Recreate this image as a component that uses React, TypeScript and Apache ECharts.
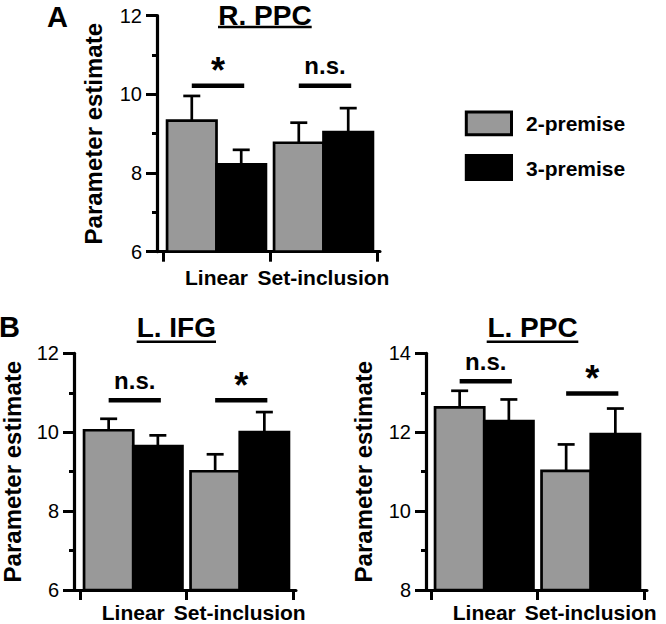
import React, { useEffect, useRef } from 'react';
import * as echarts from 'echarts';

const FONT = "'Liberation Sans', Arial, Helvetica, sans-serif";

const categories = ['Linear', 'Set-inclusion'];
const seriesNames = ['2-premise', '3-premise'];
const seriesColors = ['#999999', '#000000'];
const yAxisName = 'Parameter estimate';

// Panel A: R. PPC
const rppcTwo = [9.33, 8.77];
const rppcTwoErr = [0.63, 0.51];
const rppcThree = [8.22, 9.04];
const rppcThreeErr = [0.37, 0.61];
const rppcSigY = [10.22, 10.22];
const rppcSigLabel = ['*', 'n.s.'];
const rppcRange = [6, 12];

// Panel B left: L. IFG
const lifgTwo = [10.05, 9.01];
const lifgTwoErr = [0.29, 0.43];
const lifgThree = [9.65, 10.0];
const lifgThreeErr = [0.27, 0.51];
const lifgSigY = [10.81, 10.81];
const lifgSigLabel = ['n.s.', '*'];
const lifgRange = [6, 12];

// Panel B right: L. PPC
const lppcTwo = [12.63, 11.02];
const lppcTwoErr = [0.42, 0.67];
const lppcThree = [12.28, 11.95];
const lppcThreeErr = [0.55, 0.65];
const lppcSigY = [13.29, 12.98];
const lppcSigLabel = ['n.s.', '*'];
const lppcRange = [8, 14];

const tickInterval = 2;

const panels = [
  {
    title: 'R. PPC', two: rppcTwo, twoErr: rppcTwoErr, three: rppcThree, threeErr: rppcThreeErr,
    sigY: rppcSigY, sigLabel: rppcSigLabel, range: rppcRange,
    axisX: 157, left: 163, right: 377, lineEnd: 380, top: 15.7, bottom: 251.7, nameGap: 52, labelMargin: 15,
  },
  {
    title: 'L. IFG', two: lifgTwo, twoErr: lifgTwoErr, three: lifgThree, threeErr: lifgThreeErr,
    sigY: lifgSigY, sigLabel: lifgSigLabel, range: lifgRange,
    axisX: 74, left: 80, right: 293, lineEnd: 296, top: 353.3, bottom: 590, nameGap: 50, labelMargin: 12,
  },
  {
    title: 'L. PPC', two: lppcTwo, twoErr: lppcTwoErr, three: lppcThree, threeErr: lppcThreeErr,
    sigY: lppcSigY, sigLabel: lppcSigLabel, range: lppcRange,
    axisX: 426, left: 431, right: 644, lineEnd: 647, top: 353.3, bottom: 590, nameGap: 51, labelMargin: 12,
  },
];

const BAR_FRACTION = 0.462;
const CAP = 8.5;
const LW = 3;

function buildOption() {
  const grid: any[] = [];
  const xAxis: any[] = [];
  const yAxis: any[] = [];
  const series: any[] = [];

  panels.forEach((p, i) => {
    const gMain = grid.length;
    grid.push({
      left: p.left, top: p.top, width: p.right - p.left, height: p.bottom - p.top,
      containLabel: false, outerBoundsMode: 'none',
    });
    const gLine = grid.length;
    grid.push({
      left: p.axisX, top: p.top, width: p.lineEnd - p.axisX, height: p.bottom - p.top,
      containLabel: false, outerBoundsMode: 'none',
    });

    xAxis.push({
      type: 'category', gridIndex: gMain, data: categories, boundaryGap: true,
      axisLine: { show: false },
      axisTick: { show: true, length: 10, lineStyle: { color: '#000', width: LW } },
      axisLabel: {
        interval: 0, margin: p.labelMargin, color: '#000', fontSize: 21, fontWeight: 'bold', fontFamily: FONT,
      },
      splitLine: { show: false },
    });
    xAxis.push({
      type: 'category', gridIndex: gLine, data: categories,
      axisLine: { show: true, lineStyle: { color: '#000', width: LW } },
      axisTick: { show: false }, axisLabel: { show: false }, splitLine: { show: false },
    });

    yAxis.push({
      type: 'value', gridIndex: gMain, min: p.range[0], max: p.range[1], interval: tickInterval,
      position: 'left', offset: p.left - p.axisX,
      name: yAxisName, nameLocation: 'middle', nameRotate: 90, nameGap: p.nameGap,
      nameTextStyle: { color: '#000', fontSize: 24, fontWeight: 'bold', fontFamily: FONT },
      axisLine: { show: true, lineStyle: { color: '#000', width: 3.2, opacity: 1 } },
      axisTick: { show: true, length: 11, lineStyle: { color: '#000', width: LW } },
      minorTick: { show: true, splitNumber: 2, length: 5, lineStyle: { color: '#000', width: LW } },
      axisLabel: { margin: 15, color: '#000', fontSize: 20, fontFamily: FONT },
      splitLine: { show: false }, minorSplitLine: { show: false },
    });
    yAxis.push({
      type: 'value', gridIndex: gLine, min: p.range[0], max: p.range[1], show: false,
    });

    const xi = gMain;
    const yi = gMain;
    const makeBar = (side: number, vals: number[], errs: number[]) => ({
      type: 'custom', name: seriesNames[side], xAxisIndex: xi, yAxisIndex: yi,
      data: vals.map((v, k) => [k, v, errs[k]]),
      encode: { x: 0, y: 1 },
      renderItem: (params: any, api: any) => {
        const cat = api.value(0);
        const val = api.value(1);
        const err = api.value(2);
        const topPt = api.coord([cat, val]);
        const basePt = api.coord([cat, p.range[0]]);
        const errPt = api.coord([cat, val + err]);
        const band = api.size([1, 0])[0];
        const w = band * BAR_FRACTION;
        const x0 = side === 0 ? topPt[0] - w : topPt[0];
        const cx = x0 + w / 2;
        return {
          type: 'group',
          children: [
            { type: 'line', shape: { x1: cx, y1: topPt[1], x2: cx, y2: errPt[1] }, style: { stroke: '#000', lineWidth: 2.7 } },
            { type: 'line', shape: { x1: cx - CAP, y1: errPt[1], x2: cx + CAP, y2: errPt[1] }, style: { stroke: '#000', lineWidth: 2.7 } },
            { type: 'rect', shape: { x: x0, y: topPt[1], width: w, height: basePt[1] - topPt[1] }, style: { fill: seriesColors[side], stroke: '#000', lineWidth: 2.7 } },
          ],
        };
      },
    });
    series.push(makeBar(0, p.two, p.twoErr));
    series.push(makeBar(1, p.three, p.threeErr));

    series.push({
      type: 'custom', name: 'sig' + i, xAxisIndex: xi, yAxisIndex: yi,
      data: p.sigY.map((v, k) => [k, v]),
      encode: { x: 0, y: 1 },
      renderItem: (params: any, api: any) => {
        const cat = api.value(0);
        const yv = api.value(1);
        const c = api.coord([cat, yv]);
        const band = api.size([1, 0])[0];
        const w = band * BAR_FRACTION;
        const x1 = c[0] - w / 2;
        const x2 = c[0] + w / 2 + 3;
        const label = p.sigLabel[params.dataIndex];
        const star = label === '*';
        return {
          type: 'group',
          children: [
            { type: 'line', shape: { x1, y1: c[1], x2, y2: c[1] }, style: { stroke: '#000', lineWidth: 4.5 } },
            {
              type: 'text',
              style: {
                text: label, x: (x1 + x2) / 2, y: c[1] - (star ? 15 : 20),
                align: 'center', verticalAlign: 'middle', fill: '#000',
                font: `bold ${star ? 36 : 24}px ${FONT}`,
              },
            },
          ],
        };
      },
    });
  });

  const titleFont = `bold 28px ${FONT}`;
  const graphic: any[] = [
    { type: 'text', x: 47, y: 17, style: { text: 'A', font: `bold 29px ${FONT}`, fill: '#000', align: 'left', verticalAlign: 'middle' } },
    { type: 'text', x: -1, y: 327, style: { text: 'B', font: `bold 29px ${FONT}`, fill: '#000', align: 'left', verticalAlign: 'middle' } },
    { type: 'text', x: 265, y: 15, style: { text: panels[0].title, font: titleFont, fill: '#000', align: 'center', verticalAlign: 'middle' } },
    { type: 'line', shape: { x1: 218, y1: 27, x2: 311.7, y2: 27 }, style: { stroke: '#000', lineWidth: 2.5 } },
    { type: 'text', x: 176.3, y: 327.5, style: { text: panels[1].title, font: titleFont, fill: '#000', align: 'center', verticalAlign: 'middle' } },
    { type: 'line', shape: { x1: 136.7, y1: 341.7, x2: 216, y2: 341.7 }, style: { stroke: '#000', lineWidth: 2.5 } },
    { type: 'text', x: 532.5, y: 327.5, style: { text: panels[2].title, font: titleFont, fill: '#000', align: 'center', verticalAlign: 'middle' } },
    { type: 'line', shape: { x1: 486.7, y1: 341.7, x2: 578.3, y2: 341.7 }, style: { stroke: '#000', lineWidth: 2.5 } },
    // legend
    { type: 'rect', shape: { x: 466.3, y: 112, width: 45.2, height: 22.8 }, style: { fill: seriesColors[0], stroke: '#000', lineWidth: LW } },
    { type: 'text', x: 526, y: 123.5, style: { text: seriesNames[0], font: `bold 21px ${FONT}`, fill: '#000', align: 'left', verticalAlign: 'middle' } },
    { type: 'rect', shape: { x: 466.3, y: 155.6, width: 45.2, height: 23.8 }, style: { fill: seriesColors[1], stroke: '#000', lineWidth: LW } },
    { type: 'text', x: 526, y: 168, style: { text: seriesNames[1], font: `bold 21px ${FONT}`, fill: '#000', align: 'left', verticalAlign: 'middle' } },
  ];

  return {
    animation: false,
    backgroundColor: '#ffffff',
    textStyle: { fontFamily: FONT },
    grid, xAxis, yAxis, series, graphic,
  };
}

export default function App() {
  const ref = useRef<HTMLDivElement>(null);
  useEffect(() => {
    if (!ref.current) return;
    const chart = echarts.init(ref.current, null, { renderer: 'svg' });
    chart.setOption(buildOption() as any);
    return () => chart.dispose();
  }, []);
  return (
    <div
      ref={ref}
      style={{ position: 'fixed', left: 0, top: 0, width: 666, height: 624, background: '#fff' }}
    />
  );
}
